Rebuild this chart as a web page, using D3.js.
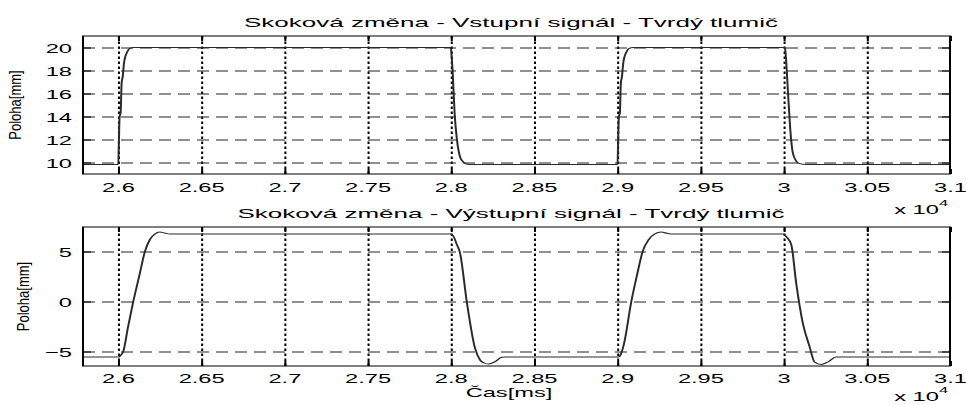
<!DOCTYPE html>
<html><head><meta charset="utf-8">
<script src="https://cdn.jsdelivr.net/npm/d3@7/dist/d3.min.js"></script>
<style>
body{margin:0;background:#fff}
svg{display:block}
text{font-family:"Liberation Sans",Arial,Helvetica,sans-serif;font-size:13px;fill:#000}
</style>
</head><body>
<svg id="c" width="966" height="405"></svg>
<script>
// ---- data (time in ms, position in mm) ----
const xTickValues = [26000,26500,27000,27500,28000,28500,29000,29500,30000,30500,31000];
const xTickLabels = ["2.6","2.65","2.7","2.75","2.8","2.85","2.9","2.95","3","3.05","3.1"];
const topYTicks = [10,12,14,16,18,20];
const bottomYTicks = [-5,0,5];

const inputTime = [25790,26002,26006,26010,26016,26022,26029,26036,26044,26055,26072,26095,
  28000,28004,28011,28023,28037,28058,28075,28100,28130,
  29002,29006,29010,29016,29022,29029,29036,29044,29055,29072,29095,
  30008,30012,30026,30040,30056,30075,30096,30136,31000];
const inputPos = [9.83,9.83,12,14,14.3,16.9,17.5,18.6,19.2,19.6,19.93,20,
  20,19.5,18,14.3,12,10.4,10.05,9.85,9.83,
  9.83,12,14,14.3,16.9,17.5,18.6,19.2,19.6,19.93,20,
  20,19.5,16.2,12.9,10.8,10.15,9.9,9.83,9.83];

const outputTime = [25790,26005,26015,26032,26060,26092,26130,26162,26192,26222,26252,26280,26312,
  28000,28020,28034,28056,28096,28146,28176,28200,28226,28266,28306,28330,
  29008,29020,29040,29085,29120,29153,29190,29225,29265,29300,29333,
  30000,30015,30046,30076,30116,30156,30186,30226,30266,30316,31000];
const outputPos = [-5.55,-5.55,-5.4,-5.0,-2.6,0,2.7,5,6.2,6.75,6.95,6.85,6.75,
  6.75,6.4,5.8,4.82,0,-4.68,-5.85,-6.15,-6.25,-6.02,-5.58,-5.55,
  -5.55,-5.35,-4.3,0,2.7,5,6.2,6.75,6.95,6.82,6.75,
  6.75,6.5,5.7,1.8,-2.2,-4.5,-6.05,-6.3,-6.05,-5.55,-5.55];

const titleTop = "Skoková změna - Vstupní signál - Tvrdý tlumič";
const titleBottom = "Skoková změna - Výstupní signál - Tvrdý tlumič";
const yLabel = "Poloha[mm]";
const xLabel = "Čas[ms]";

// ---- layout ----
const SX = 2;            // horizontal stretch of the original picture
const TSX = 1.82;        // text stretch for tick labels
const HSX = 2.0;         // text stretch for titles
const L = 83, R = 950;
const svg = d3.select("#c");

const panels = [
  {top:36, bottom:174, dom:[9,21], ticks:topYTicks, t:inputTime, v:inputPos,
   title:titleTop, titleY:27, tickY:192, ylabX:21, expY:214},
  {top:227, bottom:366, dom:[-6.45,7.45], ticks:bottomYTicks, t:outputTime, v:outputPos,
   title:titleBottom, titleY:218, tickY:383, ylabX:29, expY:401}
];

const xs = d3.scaleLinear().domain([25790,31000]).range([L/SX, R/SX]);   // in stretched group
const xf = d3.scaleLinear().domain([25790,31000]).range([L, R]);         // full-width for labels

panels.forEach(p => {
  const y = d3.scaleLinear().domain(p.dom).range([p.bottom, p.top]);
  const g = svg.append("g").attr("transform", `scale(${SX},1)`);

  // grid: vertical dotted
  const gx = g.append("g").attr("transform", `translate(0,${p.bottom})`)
    .call(d3.axisBottom(xs).tickValues(xTickValues.filter(v => v < 31000)).tickSize(-(p.bottom - p.top)).tickFormat(""));
  gx.select(".domain").remove();
  gx.selectAll("line").attr("stroke", "#000").attr("stroke-dasharray", "2.5,2.5");

  // grid: horizontal dashed
  const gy = g.append("g").attr("transform", `translate(${L/SX},0)`)
    .call(d3.axisLeft(y).tickValues(p.ticks).tickSize(-(R - L)/SX).tickFormat(""));
  gy.select(".domain").remove();
  gy.selectAll("line").attr("stroke", "#222").attr("stroke-dasharray", "6,3.5");

  // inward tick marks
  [[d3.axisBottom(xs).tickValues(xTickValues).tickSize(-5), `translate(0,${p.bottom})`],
   [d3.axisTop(xs).tickValues(xTickValues).tickSize(-5), `translate(0,${p.top})`],
   [d3.axisLeft(y).tickValues(p.ticks).tickSize(-4), `translate(${L/SX},0)`],
   [d3.axisRight(y).tickValues(p.ticks).tickSize(-4), `translate(${R/SX},0)`]].forEach(([ax, tr]) => {
    const a = g.append("g").attr("transform", tr).call(ax.tickFormat(""));
    a.select(".domain").remove();
    a.selectAll("line").attr("stroke", "#000");
  });

  // signal
  const idx = d3.range(p.t.length);
  g.append("path")
    .attr("d", d3.line().x(i => xs(p.t[i])).y(i => y(p.v[i])).curve(d3.curveMonotoneX)(idx))
    .attr("fill", "none").attr("stroke", "#2a2a2a").attr("stroke-width", 1);

  // frame
  g.append("rect").attr("x", L/SX).attr("y", p.top).attr("width", (R - L)/SX).attr("height", p.bottom - p.top)
    .attr("fill", "none").attr("stroke", "#000").attr("stroke-width", 1);

  // x tick labels
  const xl = svg.append("g").attr("transform", `translate(0,${p.tickY})`)
    .call(d3.axisBottom(xf).tickValues(xTickValues).tickSize(0).tickPadding(0)
      .tickFormat((d, i) => xTickLabels[i]));
  xl.select(".domain").remove();
  xl.selectAll("text").attr("y", 0).attr("dy", 0).attr("font-size", 13)
    .attr("font-family", null).attr("transform", `scale(${TSX},1)`);

  // y tick labels
  const yl = svg.append("g").attr("transform", `translate(72,0)`)
    .call(d3.axisLeft(y).tickValues(p.ticks).tickSize(0).tickPadding(0).tickFormat(d3.format("d")));
  yl.select(".domain").remove();
  yl.selectAll("text").attr("x", 0).attr("dy", "0.38em").attr("font-size", 13)
    .attr("font-family", null).attr("transform", `scale(${TSX},1)`);

  // title
  svg.append("text").attr("transform", `translate(511,${p.titleY}) scale(${HSX},1)`)
    .attr("text-anchor", "middle").text(p.title);

  // y label (glyph heights stretched horizontally like the original)
  svg.append("text").attr("transform", `translate(${p.ylabX},${(p.top + p.bottom)/2}) rotate(-90) scale(1,1.3)`)
    .attr("text-anchor", "middle").attr("font-size", 13).text(yLabel);

  // exponent label
  const ex = svg.append("text").attr("transform", `translate(948,${p.expY}) scale(${TSX},1)`)
    .attr("text-anchor", "end");
  ex.append("tspan").text("x 10");
  ex.append("tspan").attr("dy", -8).attr("font-size", 9).text("4");
});

// x label
svg.append("text").attr("transform", `translate(509,397) scale(${TSX},1)`)
  .attr("text-anchor", "middle").text(xLabel);
</script>
</body></html>
